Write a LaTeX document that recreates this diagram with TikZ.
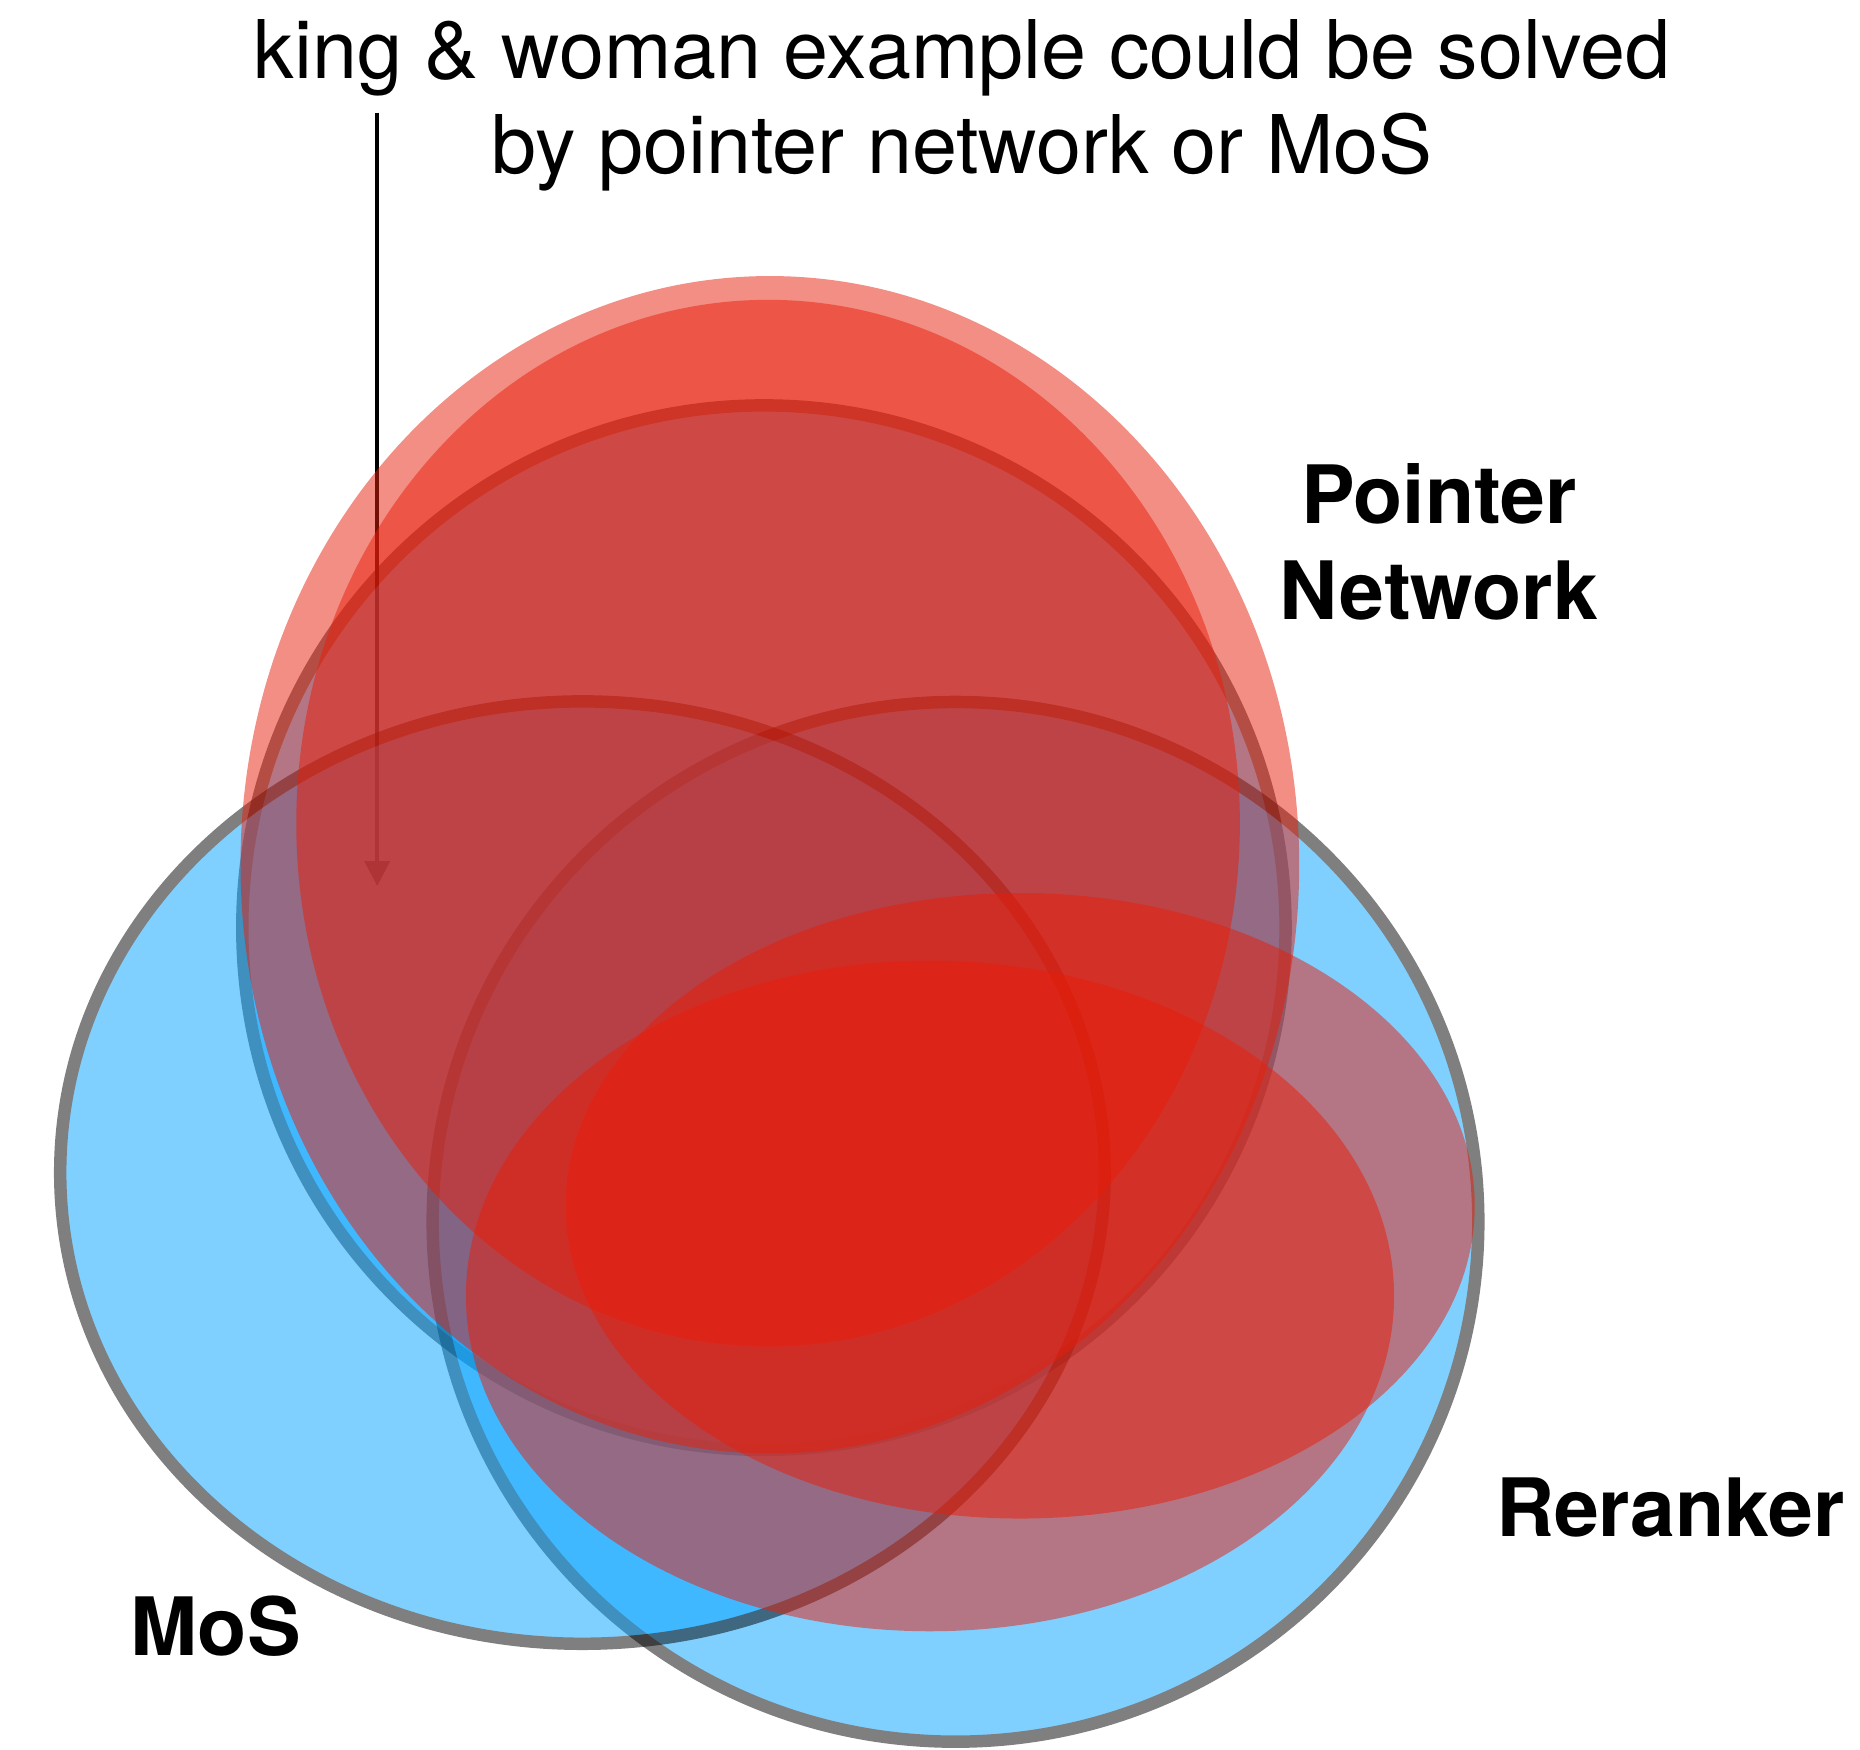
\documentclass[tikz,border=0pt]{standalone}
\usepackage{fontspec}
\setmainfont{TeX Gyre Heros}
\usetikzlibrary{arrows.meta}

\definecolor{skyfill}{RGB}{0,162,255}
\definecolor{hotred}{RGB}{233,30,10}

\tikzset{
  setring/.style={draw=black, fill=skyfill, line width=0.105cm},
  redblob/.style={fill=hotred, fill opacity=0.5},
  notetext/.style={font=\fontsize{19.4pt}{23pt}\selectfont, anchor=base, inner sep=0pt},
  setlabel/.style={font=\fontsize{19.3pt}{23pt}\selectfont\bfseries, anchor=base, inner sep=0pt},
  pointerarrow/.style={draw=black, line width=0.034cm, -{Triangle[length=0.21cm, width=0.21cm]}}
}

\begin{document}
\begin{tikzpicture}[x=0.01cm, y=-0.01cm]
  \fill[white] (0,0) rectangle (1568,1475);
  \useasboundingbox (0,0) rectangle (1568,1475);

  % annotation arrow, lying underneath all shapes
  \coordinate (notestart) at (318,95);
  \coordinate (notetip) at (318,747);
  \draw[pointerarrow] (notestart) -- (notetip);

  % the three method sets
  \coordinate (pnc) at (644,782);
  \coordinate (rrc) at (805.5,1030);
  \coordinate (mosc) at (491,988.5);
  \begin{scope}[transparency group, opacity=0.5]
    \draw[setring] (pnc) ellipse [x radius=4.395cm, y radius=4.40cm];
  \end{scope}
  \begin{scope}[transparency group, opacity=0.5]
    \draw[setring] (rrc) ellipse [x radius=4.405cm, y radius=4.38cm];
  \end{scope}
  \begin{scope}[transparency group, opacity=0.5]
    \draw[setring] (mosc) ellipse [x radius=4.40cm, y radius=3.97cm];
  \end{scope}

  % solvable regions
  \coordinate (ra) at (649,729);
  \coordinate (rb) at (647.5,694);
  \coordinate (rc) at (860,1016.5);
  \coordinate (rd) at (784,1092.5);
  \fill[redblob] (ra) ellipse [x radius=4.46cm, y radius=4.96cm];
  \fill[redblob] (rb) ellipse [x radius=3.975cm, y radius=4.41cm];
  \fill[redblob] (rc) ellipse [x radius=3.83cm, y radius=2.635cm];
  \fill[redblob] (rd) ellipse [x radius=3.91cm, y radius=2.825cm];

  % texts
  \node[notetext] (noteone) at (811,66) {king \& woman example could be solved};
  \node[notetext] (notetwo) at (811,146) {by pointer network or MoS};
  \node[setlabel] (pnone) at (1213,441) {Pointer};
  \node[setlabel] (pntwo) at (1213,522) {Network};
  \node[setlabel] (rrlabel) at (1408,1295) {Reranker};
  \node[setlabel] (moslabel) at (182,1396) {MoS};
\end{tikzpicture}
\end{document}
